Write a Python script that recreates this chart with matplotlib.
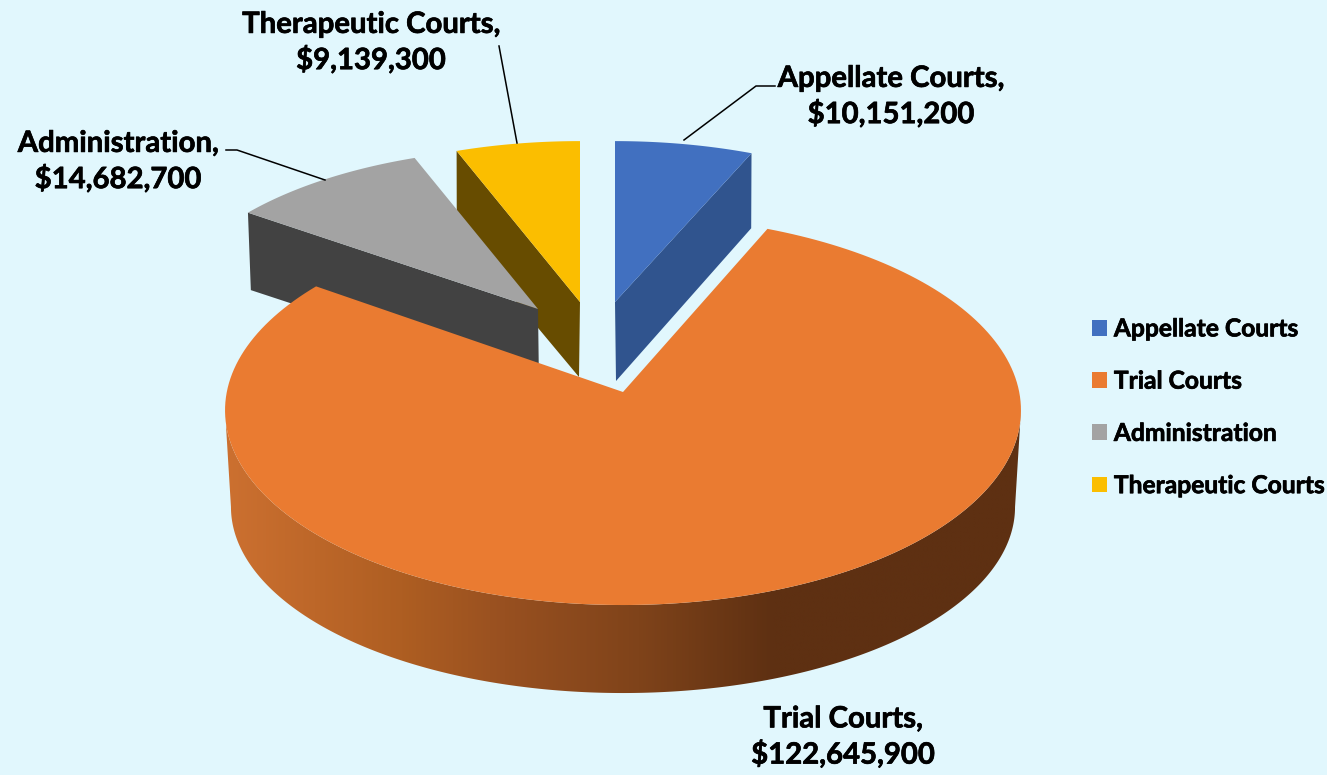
import numpy as np
import matplotlib
matplotlib.use('Agg')
import matplotlib.pyplot as plt
import matplotlib.patheffects as pe
from matplotlib.colors import LinearSegmentedColormap
from matplotlib.patches import Patch, Polygon

# Budget by court type
names = ['Appellate Courts', 'Trial Courts', 'Administration', 'Therapeutic Courts']
values = [10151200, 122645900, 14682700, 9139300]

colors = ['#4170C0', '#EA7B31', '#A3A3A3', '#FBBE00']
side_colors = ['#30548E', '#EA7B31', '#424242', '#674C00']
bg = '#E1F7FD'

# Where each wedge sits on the picture: top apex, bottom apex, size of the rim
top_apex = [(615, 302), (623, 392), (538, 309), (580, 302)]
bot_apex = [(616, 381), (623, 489.5), (539, 385), (579, 377)]
top_scale = [(0.945, 0.912), (1.0, 1.0), (0.945, 0.912), (0.945, 0.912)]
bot_scale = [(0.95, 0.98), (1.0, 1.0), (0.953, 0.94), (0.95, 0.925)]

# Perspective of the disc
persp = 0.094
top_radius = (396.2, 193.0)
bot_radius = (390.3, 184.4)

plt.rcParams['font.family'] = ['Lato', 'DejaVu Sans']
plt.rcParams['font.weight'] = 'bold'

fig = plt.figure(figsize=(13.27, 7.75), dpi=100, facecolor=bg)
ax = fig.add_axes([0, 0, 1, 1])
ax.set_facecolor(bg)


def rim(angles, apex, radius, scale):
    # angle in degrees, clockwise from the top of the pie
    t = np.radians(angles)
    d = 1 + persp * np.cos(t)
    x = apex[0] + scale[0] * radius[0] * np.sin(t) / d
    y = apex[1] - scale[1] * radius[1] * np.cos(t) / d
    return np.column_stack([x, y])


angles = np.concatenate([[0], np.cumsum(values) / np.sum(values) * 360])
wedge = [np.linspace(angles[i], angles[i + 1], 200) for i in range(4)]

# Back slices first, the big one goes on top of them
for i in [3, 0, 2]:
    a = wedge[i]
    top = rim(a, top_apex[i], top_radius, top_scale[i])
    bot = rim(a, bot_apex[i], bot_radius, bot_scale[i])
    # the cut face we can see is the leading edge, except on the appellate slice
    k = -1 if i == 0 else 0
    side = [top[k], bot[k], bot_apex[i], top_apex[i]]
    ax.add_patch(Polygon(side, closed=True, fc=side_colors[i], ec='none'))
    ax.add_patch(Polygon(np.vstack([[top_apex[i]], top]), closed=True, fc=colors[i], ec='none'))

# Trial courts wall, shaded from left to right
edge = np.degrees(np.arccos(-persp))
front = np.linspace(edge, 360 - edge, 400)
top = rim(front, top_apex[1], top_radius, top_scale[1])
bot = rim(front, bot_apex[1], bot_radius, bot_scale[1])
wall = Polygon(np.vstack([top, bot[::-1]]), closed=True, fc='none', ec='none')
ax.add_patch(wall)
shade = LinearSegmentedColormap.from_list('wall', [
    (0.0, '#CC7030'), (0.22, '#AE5E22'), (0.35, '#985020'), (0.52, '#7F431A'),
    (0.69, '#5E3012'), (1.0, '#5E3012')])
im = ax.imshow(np.linspace(0, 1, 512)[None, :], cmap=shade, aspect='auto',
               extent=(226, 1021, 700, 400), interpolation='bilinear')
im.set_clip_path(wall)

top = rim(wedge[1], top_apex[1], top_radius, top_scale[1])
ax.add_patch(Polygon(np.vstack([[top_apex[1]], top]), closed=True, fc=colors[1], ec='none'))

ax.set_xlim(0, 1327)
ax.set_ylim(775, 0)
ax.axis('off')

heavy = [pe.withStroke(linewidth=0.5, foreground='black')]

# Data labels
label_pos = [(891, 97), (843, 737.5), (118, 162), (371, 43)]
for name, val, pos in zip(names, values, label_pos):
    ax.text(pos[0], pos[1], f'{name},\n${val:,}', ha='center', va='center',
            fontsize=21.1, fontweight='bold', color='black', linespacing=1.35,
            path_effects=heavy)

# Leader lines
ax.plot([684, 756, 775], [140, 86, 86], color='black', lw=1.1)
ax.plot([517, 499], [143, 46], color='black', lw=1.1)
ax.plot([325, 237, 226], [180, 150, 150], color='black', lw=1.1)

handles = [Patch(fc=c, ec='none') for c in colors]
leg = ax.legend(handles, names, loc='upper left', bbox_to_anchor=(1084.6 / 1327, 1 - 310 / 775),
                frameon=False, fontsize=17.7, handlelength=0.61, handleheight=0.61,
                handletextpad=0.28, labelspacing=1.19, borderpad=0.3, borderaxespad=0)
for t in leg.get_texts():
    t.set_path_effects(heavy)

fig.savefig('out.png', dpi=100, facecolor=bg)
